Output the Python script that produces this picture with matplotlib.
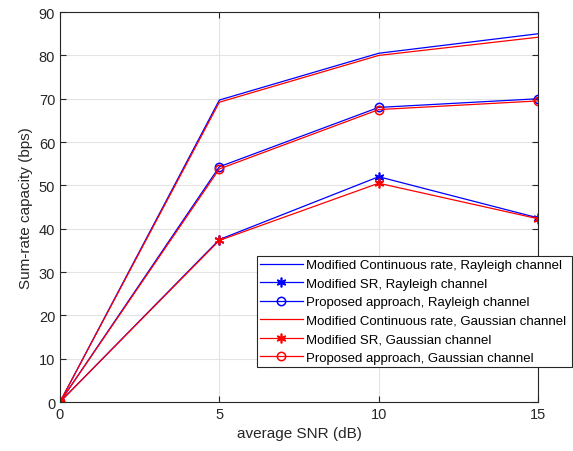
import matplotlib
matplotlib.use("Agg")
import matplotlib.pyplot as plt

plt.rcParams['font.family'] = ['Liberation Sans', 'DejaVu Sans']

snr = [0, 5, 10, 15]
cont_rayleigh = [0, 69.7, 80.5, 85.0]
sr_rayleigh = [0, 37.5, 52.0, 42.5]
prop_rayleigh = [0, 54.3, 68.0, 70.0]
cont_gauss = [0, 69.2, 80.0, 84.2]
sr_gauss = [0, 37.3, 50.5, 42.3]
prop_gauss = [0, 53.8, 67.5, 69.5]

fig = plt.figure(figsize=(5.73, 4.52), dpi=100)
ax = fig.add_axes([0.1047, 0.1084, 0.8343, 0.8626])

lw = 0.9
ast = (6, 2, 0)
ax.plot(snr, cont_rayleigh, color='#0000ff', lw=lw, label='Modified Continuous rate, Rayleigh channel')
ax.plot(snr, sr_rayleigh, color='#0000ff', lw=lw, marker=ast, ms=7, mew=1.2, label='Modified SR, Rayleigh channel')
ax.plot(snr, prop_rayleigh, color='#0000ff', lw=lw, marker='o', ms=6, mfc='none', mew=1.1, label='Proposed approach, Rayleigh channel')
ax.plot(snr, cont_gauss, color='#ff0000', lw=lw, label='Modified Continuous rate, Gaussian channel')
ax.plot(snr, sr_gauss, color='#ff0000', lw=lw, marker=ast, ms=7, mew=1.2, label='Modified SR, Gaussian channel')
ax.plot(snr, prop_gauss, color='#ff0000', lw=lw, marker='o', ms=6, mfc='none', mew=1.1, label='Proposed approach, Gaussian channel')

ax.set_xlim(0, 15)
ax.set_ylim(0, 90)
ax.set_xticks([0, 5, 10, 15])
ax.set_yticks(range(0, 91, 10))
ax.grid(True, color='#e3e3e3', lw=0.8)
ax.set_axisbelow(True)
ax.tick_params(direction='in', length=4, labelsize=10.5, colors='#262626', top=True, right=True)
for s in ax.spines.values():
    s.set_color('#262626')
    s.set_linewidth(0.8)
ax.set_xlabel('average SNR (dB)', fontsize=11, color='#262626')
ax.set_ylabel('Sum-rate capacity (bps)', fontsize=11, color='#262626')

leg = fig.legend(loc='lower left', bbox_to_anchor=(0.4485, 0.186, 0.55, 0.254), mode='expand',
                 fontsize=9.5, frameon=True, fancybox=False, handlelength=3.2,
                 borderaxespad=0, labelspacing=0.47, handletextpad=0.3, borderpad=0.25)
leg.get_frame().set_edgecolor('#262626')
leg.get_frame().set_linewidth(0.8)
leg.get_frame().set_alpha(1)

fig.savefig('out.png', dpi=100)
